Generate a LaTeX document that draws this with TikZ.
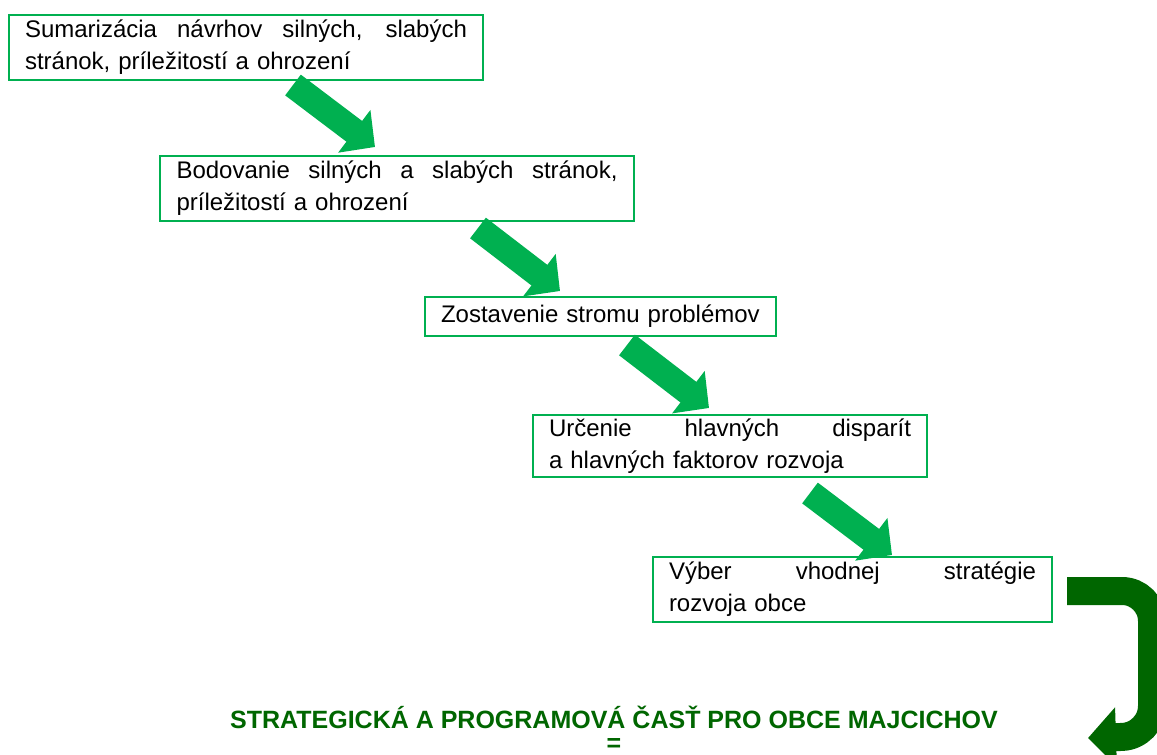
\documentclass[tikz,border=0pt]{standalone}
\usepackage{fontspec}
\setmainfont{Liberation Sans}
\usepackage{xcolor}
\usepackage{tikz}
\usetikzlibrary{arrows.meta,positioning,calc}

\definecolor{boxgreen}{HTML}{00B050}
\definecolor{darkgreen}{HTML}{006600}
\newcommand{\jline}[1]{{\spaceskip=.3333em plus 1fill\relax\makebox[\hsize][s]{#1}}}

\begin{document}
\begin{tikzpicture}[x=1pt, y=-1pt,
    box/.style={draw=boxgreen, line width=2pt, anchor=north west, inner xsep=16pt,
      inner ysep=0pt, align=left, font=\fontsize{24}{32}\selectfont},
    flow/.style={draw=boxgreen, line width=26pt, -{Triangle[length=26pt, width=52pt]}},
    turn/.style={draw=darkgreen, line width=28pt, rounded corners=30pt,
      -{Triangle[length=28pt, width=58pt]}}]
            \useasboundingbox (0,0) rectangle (1157,755);
            \clip (0,0) rectangle (1157,755);

            % Steps
            \node[box, text width=442pt, minimum width=474pt, minimum height=65pt] (sum) at (8,14)
              {\jline{Sumarizácia návrhov silných, slabých}\\stránok, príležitostí a ohrození};
            \node[box, text width=441pt, minimum width=474pt, minimum height=65pt] (bod) at (159,155)
              {\jline{Bodovanie silných a slabých stránok,}\\príležitostí a ohrození};
            \node[box, text width=319pt, minimum width=351pt, minimum height=39pt] (strom) at (424,296)
              {Zostavenie stromu problémov};
            \node[box, text width=362pt, minimum width=394pt, minimum height=62pt] (disp) at (532,414)
              {\jline{Určenie hlavných disparít}\\a hlavných faktorov rozvoja};
            \node[box, text width=367pt, minimum width=397pt, minimum height=65pt] (vyber) at (652,556)
              {\jline{Výber vhodnej stratégie}\\rozvoja obce};

            % Arrows between steps
            \draw[flow] ($(sum.south west)+(285,4)$) -- ($(bod.north west)+(216,-8)$);
            \draw[flow] ($(bod.south west)+(319,6)$) -- ($(strom.north west)+(136,-5)$);
            \draw[flow] ($(strom.south west)+(203,8)$) -- ($(disp.north west)+(177,-6)$);
            \draw[flow] ($(disp.south west)+(278,15)$) -- ($(vyber.north west)+(240,-1)$);

            % Result
            \node[font=\fontsize{25}{30}\bfseries\selectfont, text=darkgreen] (title) at (614,717)
              {STRATEGICKÁ A PROGRAMOVÁ ČASŤ PRO OBCE MAJCICHOV};
            \node[font=\fontsize{25}{30}\bfseries\selectfont, text=darkgreen] (eq) at (614,745) {=};
            \coordinate (tend) at (1088,738);
            \draw[turn] ($(vyber.north east)+(14,35)$) -| (1152,736) -- (tend);
        \end{tikzpicture}
\end{document}
